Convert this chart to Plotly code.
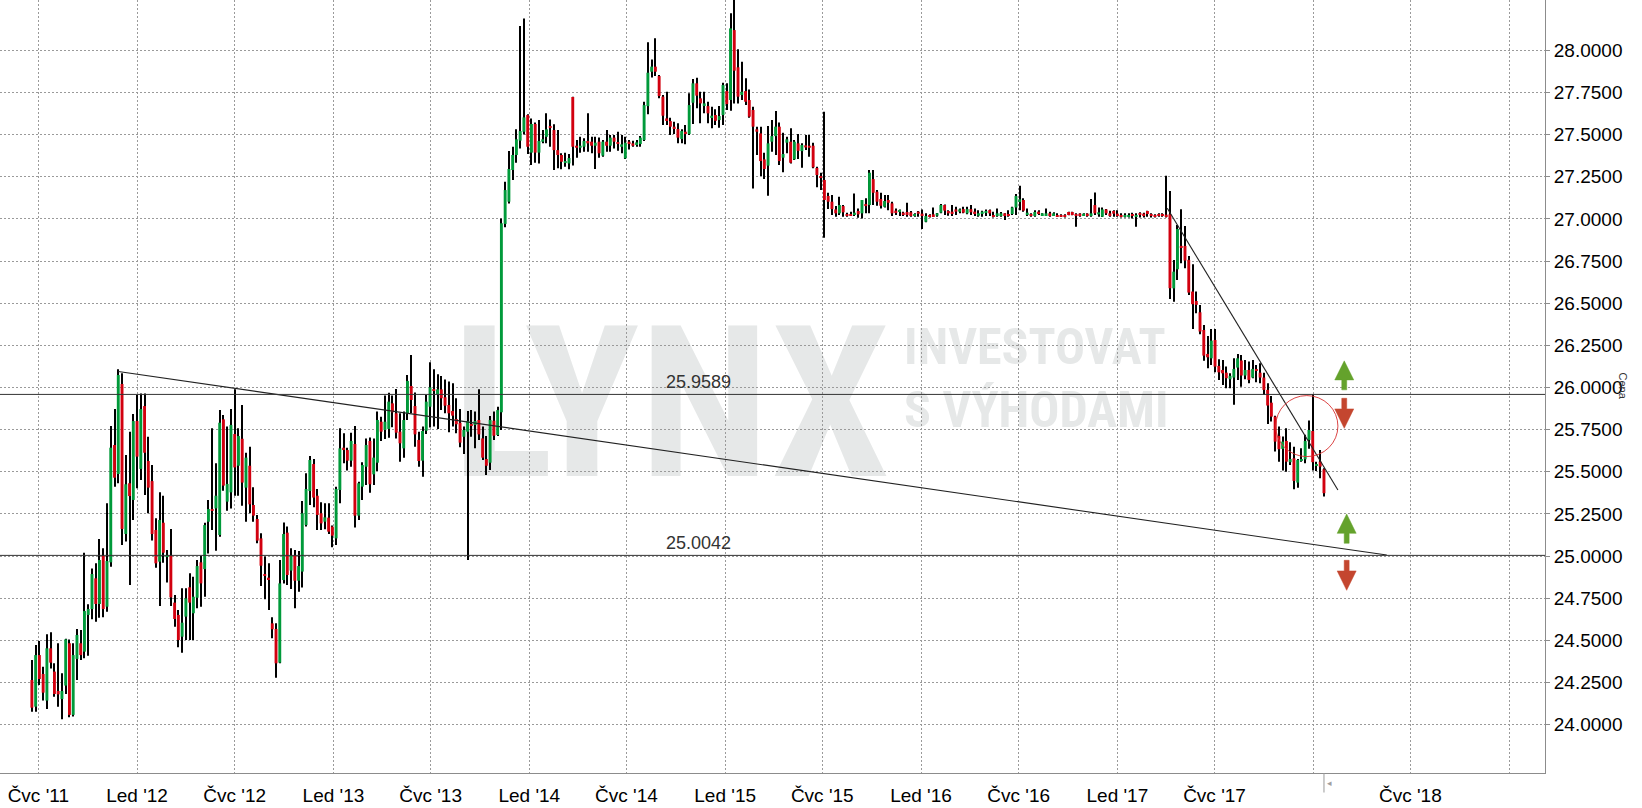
import pandas as pd
import plotly.graph_objects as go

# ---------------- data (weekly EUR/CZK candles) ----------------
first_week = "2011-06-19"

opens = [
    24.265, 24.107, 24.413, 24.301, 24.143, 24.453, 24.315, 24.200, 24.152, 24.232,
    24.483, 24.058, 24.390, 24.483, 24.433, 24.651, 24.686, 24.868, 24.716, 25.001,
    24.700, 24.963, 25.659, 25.487, 26.021, 25.131, 25.432, 25.333, 25.801, 25.517,
    25.890, 25.564, 25.445, 25.155, 24.967, 25.198, 24.997, 25.003, 24.724, 24.651,
    24.522, 24.641, 24.815, 24.661, 24.753, 24.963, 24.923, 25.204, 25.279, 25.283,
    25.125, 25.811, 25.323, 25.378, 25.724, 25.536, 25.696, 25.406, 25.536, 25.303,
    25.220, 25.105, 24.894, 24.872, 24.601, 24.568, 24.368, 24.858, 25.139, 24.914,
    25.003, 24.854, 24.908, 25.184, 25.386, 25.546, 25.358, 25.254, 25.204, 25.228,
    25.175, 25.105, 25.392, 25.643, 25.629, 25.566, 25.665, 25.240, 25.412, 25.530,
    25.683, 25.485, 25.554, 25.797, 25.748, 25.754, 25.906, 25.847, 25.738, 25.639,
    25.843, 26.009, 25.890, 25.689, 25.566, 25.744, 25.886, 25.991, 25.961, 25.989,
    25.942, 25.896, 25.861, 25.813, 25.791, 25.708, 25.738, 25.783, 25.778, 25.807,
    25.698, 25.576, 25.554, 25.803, 25.718, 25.853, 26.970, 27.102, 27.290, 27.379,
    27.464, 27.517, 27.616, 27.393, 27.563, 27.393, 27.458, 27.487, 27.551, 27.527,
    27.408, 27.379, 27.333, 27.329, 27.723, 27.434, 27.422, 27.428, 27.462, 27.458,
    27.434, 27.458, 27.375, 27.458, 27.434, 27.482, 27.456, 27.428, 27.359, 27.458,
    27.448, 27.444, 27.444, 27.468, 27.669, 27.873, 27.903, 27.847, 27.725, 27.596,
    27.580, 27.547, 27.533, 27.474, 27.517, 27.503, 27.689, 27.804, 27.715, 27.675,
    27.669, 27.602, 27.616, 27.586, 27.616, 27.758, 27.705, 28.120, 27.899, 27.735,
    27.758, 27.705, 27.646, 27.531, 27.507, 27.353, 27.316, 27.458, 27.491, 27.547,
    27.363, 27.452, 27.458, 27.353, 27.448, 27.402, 27.436, 27.434, 27.434, 27.302,
    27.254, 27.231, 27.136, 27.102, 27.056, 27.033, 27.076, 27.029, 27.027, 27.023,
    27.047, 27.033, 27.088, 27.082, 27.236, 27.161, 27.118, 27.072, 27.112, 27.092,
    27.049, 27.043, 27.037, 27.041, 27.039, 27.019, 27.043, 27.031, 26.983, 27.023,
    27.027, 27.019, 27.037, 27.082, 27.047, 27.043, 27.056, 27.043, 27.058, 27.033,
    27.058, 27.041, 27.019, 27.033, 27.037, 27.052, 27.023, 27.023, 27.023, 27.029,
    27.029, 27.029, 27.068, 27.106, 27.112, 27.027, 27.027, 27.017, 27.043, 27.023,
    27.023, 27.033, 27.023, 27.023, 27.023, 27.023, 27.041, 27.041, 27.029, 27.029,
    27.021, 27.029, 27.023, 27.082, 27.027, 27.013, 27.056, 27.033, 27.047, 27.027,
    27.023, 27.013, 27.013, 27.029, 27.013, 27.033, 27.029, 27.047, 27.029, 27.023,
    27.029, 27.029, 27.023, 27.027, 26.588, 26.701, 26.840, 26.840, 26.757, 26.569,
    26.513, 26.446, 26.341, 26.199, 26.173, 26.282, 26.128, 26.104, 26.088, 26.049,
    26.059, 26.118, 26.160, 26.071, 26.104, 26.059, 26.108, 26.088, 26.059, 25.986,
    25.910, 25.827, 25.713, 25.636, 25.683, 25.557, 25.580, 25.436, 25.566, 25.574,
    25.689, 25.742, 25.535, 25.560, 25.515,
]

highs = [
    24.384, 24.473, 24.496, 24.344, 24.536, 24.548, 24.364, 24.483, 24.305, 24.510,
    24.506, 24.483, 24.568, 24.562, 25.020, 24.714, 24.927, 24.957, 25.101, 25.046,
    25.313, 25.772, 25.872, 26.108, 26.084, 25.600, 25.738, 25.843, 25.955, 25.965,
    25.965, 25.708, 25.540, 25.224, 25.378, 25.358, 25.036, 25.161, 24.769, 24.680,
    24.809, 24.809, 24.898, 24.878, 24.977, 25.001, 25.198, 25.333, 25.758, 25.550,
    25.866, 25.837, 25.768, 25.872, 25.989, 25.758, 25.896, 25.613, 25.649, 25.408,
    25.244, 25.135, 24.997, 24.957, 24.637, 24.601, 24.977, 25.200, 25.175, 25.046,
    25.036, 25.030, 25.327, 25.491, 25.594, 25.576, 25.398, 25.319, 25.313, 25.313,
    25.181, 25.412, 25.758, 25.728, 25.643, 25.732, 25.772, 25.441, 25.556, 25.698,
    25.704, 25.698, 25.857, 25.827, 25.952, 25.969, 25.952, 25.991, 25.847, 25.857,
    26.074, 26.193, 25.971, 25.738, 25.768, 25.955, 26.149, 26.108, 26.078, 26.068,
    26.048, 26.035, 26.025, 25.936, 25.872, 25.768, 25.861, 25.866, 25.857, 25.989,
    25.768, 25.712, 25.831, 25.857, 25.886, 27.003, 27.221, 27.402, 27.428, 27.531,
    28.144, 28.189, 27.620, 27.596, 27.571, 27.586, 27.527, 27.626, 27.590, 27.561,
    27.527, 27.389, 27.393, 27.385, 27.725, 27.468, 27.487, 27.478, 27.626, 27.487,
    27.487, 27.483, 27.468, 27.527, 27.497, 27.497, 27.517, 27.497, 27.487, 27.468,
    27.464, 27.468, 27.491, 27.695, 28.047, 27.946, 28.071, 27.853, 27.735, 27.754,
    27.600, 27.576, 27.567, 27.531, 27.557, 27.745, 27.830, 27.837, 27.754, 27.754,
    27.695, 27.665, 27.650, 27.669, 27.808, 27.804, 28.219, 28.300, 28.006, 27.932,
    27.834, 27.768, 27.665, 27.547, 27.547, 27.393, 27.551, 27.586, 27.640, 27.571,
    27.511, 27.487, 27.537, 27.468, 27.503, 27.448, 27.497, 27.497, 27.452, 27.310,
    27.274, 27.636, 27.155, 27.141, 27.076, 27.132, 27.082, 27.037, 27.043, 27.151,
    27.062, 27.112, 27.122, 27.290, 27.290, 27.171, 27.155, 27.141, 27.141, 27.102,
    27.062, 27.056, 27.043, 27.096, 27.047, 27.033, 27.047, 27.056, 27.033, 27.027,
    27.068, 27.035, 27.088, 27.086, 27.052, 27.082, 27.072, 27.062, 27.072, 27.072,
    27.082, 27.062, 27.052, 27.049, 27.056, 27.056, 27.043, 27.062, 27.041, 27.033,
    27.052, 27.072, 27.147, 27.197, 27.122, 27.062, 27.033, 27.052, 27.052, 27.033,
    27.062, 27.043, 27.039, 27.033, 27.027, 27.027, 27.043, 27.043, 27.033, 27.033,
    27.033, 27.033, 27.118, 27.157, 27.068, 27.068, 27.058, 27.049, 27.052, 27.052,
    27.033, 27.033, 27.033, 27.037, 27.033, 27.039, 27.037, 27.049, 27.033, 27.027,
    27.033, 27.033, 27.256, 27.166, 26.756, 26.964, 27.057, 26.958, 26.780, 26.731,
    26.569, 26.490, 26.371, 26.306, 26.347, 26.347, 26.167, 26.163, 26.124, 26.084,
    26.173, 26.199, 26.193, 26.163, 26.154, 26.163, 26.134, 26.144, 26.088, 26.025,
    25.950, 25.833, 25.768, 25.709, 25.758, 25.675, 25.649, 25.576, 25.640, 25.719,
    25.804, 25.960, 25.560, 25.630, 25.521,
]

lows = [
    24.077, 24.077, 24.235, 24.143, 24.093, 24.334, 24.166, 24.107, 24.032, 24.182,
    24.044, 24.048, 24.265, 24.384, 24.394, 24.409, 24.625, 24.611, 24.635, 24.637,
    24.670, 24.937, 25.412, 25.432, 25.066, 25.086, 24.829, 25.214, 25.402, 25.451,
    25.362, 25.254, 25.092, 24.931, 24.704, 24.961, 24.844, 24.704, 24.581, 24.459,
    24.427, 24.502, 24.502, 24.502, 24.690, 24.700, 24.759, 25.016, 25.155, 25.032,
    25.115, 25.388, 25.269, 25.283, 25.358, 25.358, 25.299, 25.204, 25.254, 25.204,
    25.076, 24.823, 24.744, 24.680, 24.512, 24.279, 24.364, 24.838, 24.829, 24.805,
    24.690, 24.789, 24.813, 25.175, 25.303, 25.289, 25.155, 25.155, 25.159, 25.131,
    25.052, 25.066, 25.313, 25.550, 25.507, 25.530, 25.169, 25.214, 25.333, 25.422,
    25.376, 25.422, 25.505, 25.683, 25.694, 25.702, 25.764, 25.698, 25.560, 25.584,
    25.807, 25.847, 25.649, 25.530, 25.471, 25.724, 25.762, 25.768, 25.754, 25.866,
    25.847, 25.734, 25.768, 25.728, 25.645, 25.606, 24.977, 25.708, 25.639, 25.689,
    25.570, 25.481, 25.511, 25.689, 25.712, 25.748, 26.950, 27.092, 27.231, 27.333,
    27.418, 27.500, 27.385, 27.320, 27.333, 27.329, 27.448, 27.448, 27.428, 27.290,
    27.300, 27.294, 27.310, 27.294, 27.316, 27.363, 27.393, 27.398, 27.398, 27.389,
    27.296, 27.363, 27.369, 27.398, 27.398, 27.418, 27.404, 27.389, 27.355, 27.412,
    27.428, 27.428, 27.428, 27.462, 27.620, 27.839, 27.847, 27.715, 27.557, 27.557,
    27.497, 27.503, 27.448, 27.448, 27.442, 27.497, 27.563, 27.656, 27.567, 27.626,
    27.567, 27.537, 27.557, 27.541, 27.557, 27.646, 27.642, 27.685, 27.685, 27.705,
    27.675, 27.600, 27.181, 27.379, 27.254, 27.236, 27.138, 27.398, 27.379, 27.320,
    27.276, 27.389, 27.329, 27.349, 27.355, 27.304, 27.408, 27.369, 27.300, 27.187,
    27.171, 26.888, 27.058, 27.023, 27.013, 27.023, 27.013, 27.013, 27.017, 27.017,
    27.007, 27.003, 27.033, 27.033, 27.082, 27.078, 27.062, 27.068, 27.052, 27.017,
    27.023, 27.017, 27.017, 27.013, 27.013, 27.013, 27.013, 26.940, 26.980, 27.009,
    27.013, 27.013, 27.033, 27.023, 27.019, 27.017, 27.023, 27.033, 27.033, 27.027,
    27.023, 27.017, 27.013, 27.013, 27.017, 27.017, 27.009, 27.013, 27.013, 26.993,
    27.013, 27.023, 27.023, 27.052, 27.043, 27.017, 27.013, 27.013, 27.023, 27.017,
    27.017, 27.013, 27.021, 27.011, 27.011, 27.009, 27.021, 27.021, 26.954, 27.013,
    27.019, 27.013, 27.013, 27.023, 27.013, 27.011, 27.023, 27.013, 27.013, 27.013,
    27.009, 27.009, 27.009, 27.003, 26.954, 27.009, 27.009, 27.013, 27.009, 27.009,
    27.013, 27.013, 27.009, 26.525, 26.509, 26.638, 26.737, 26.707, 26.549, 26.347,
    26.440, 26.316, 26.158, 26.114, 26.134, 26.090, 26.045, 26.015, 25.995, 25.995,
    25.897, 26.045, 26.005, 26.049, 26.025, 26.055, 26.031, 26.025, 25.956, 25.784,
    25.798, 25.620, 25.560, 25.507, 25.501, 25.541, 25.396, 25.406, 25.560, 25.551,
    25.636, 25.507, 25.505, 25.462, 25.353,
]

closes = [
    24.101, 24.413, 24.271, 24.190, 24.453, 24.368, 24.182, 24.180, 24.200, 24.506,
    24.058, 24.413, 24.532, 24.413, 24.674, 24.686, 24.894, 24.716, 24.977, 24.686,
    24.971, 25.643, 25.465, 26.074, 25.161, 25.426, 25.356, 25.801, 25.590, 25.872,
    25.613, 25.406, 25.131, 24.957, 25.214, 25.020, 25.003, 24.755, 24.627, 24.502,
    24.605, 24.749, 24.724, 24.759, 24.941, 24.838, 25.184, 25.279, 25.268, 25.358,
    25.791, 25.418, 25.428, 25.778, 25.526, 25.712, 25.436, 25.584, 25.307, 25.240,
    25.092, 24.943, 24.884, 24.862, 24.566, 24.364, 24.838, 25.131, 24.888, 25.003,
    24.854, 24.941, 25.254, 25.398, 25.570, 25.347, 25.244, 25.194, 25.230, 25.145,
    25.121, 25.398, 25.639, 25.629, 25.566, 25.683, 25.240, 25.432, 25.540, 25.659,
    25.426, 25.584, 25.807, 25.738, 25.797, 25.916, 25.853, 25.732, 25.669, 25.807,
    26.039, 25.926, 25.722, 25.564, 25.742, 25.916, 26.001, 25.979, 25.989, 25.936,
    25.892, 25.847, 25.833, 25.782, 25.673, 25.748, 25.801, 25.772, 25.801, 25.722,
    25.584, 25.536, 25.807, 25.714, 25.866, 26.974, 27.171, 27.296, 27.379, 27.472,
    27.521, 27.602, 27.428, 27.563, 27.393, 27.462, 27.472, 27.531, 27.541, 27.408,
    27.379, 27.339, 27.343, 27.361, 27.428, 27.422, 27.434, 27.462, 27.448, 27.434,
    27.452, 27.389, 27.458, 27.434, 27.482, 27.458, 27.444, 27.442, 27.452, 27.444,
    27.434, 27.452, 27.482, 27.675, 27.867, 27.903, 27.873, 27.729, 27.612, 27.586,
    27.547, 27.537, 27.482, 27.521, 27.503, 27.675, 27.804, 27.731, 27.685, 27.685,
    27.626, 27.610, 27.582, 27.610, 27.794, 27.681, 28.130, 27.879, 27.725, 27.754,
    27.695, 27.606, 27.547, 27.517, 27.343, 27.296, 27.448, 27.491, 27.547, 27.343,
    27.385, 27.472, 27.333, 27.458, 27.404, 27.438, 27.424, 27.422, 27.306, 27.260,
    27.244, 27.112, 27.102, 27.058, 27.033, 27.082, 27.039, 27.019, 27.019, 27.037,
    27.027, 27.112, 27.076, 27.274, 27.155, 27.102, 27.078, 27.106, 27.096, 27.033,
    27.039, 27.049, 27.027, 27.023, 27.017, 27.027, 27.031, 27.021, 27.017, 27.013,
    27.017, 27.033, 27.082, 27.049, 27.033, 27.033, 27.043, 27.056, 27.037, 27.058,
    27.039, 27.033, 27.033, 27.041, 27.047, 27.033, 27.013, 27.033, 27.033, 27.023,
    27.019, 27.068, 27.136, 27.112, 27.049, 27.037, 27.019, 27.041, 27.033, 27.029,
    27.031, 27.023, 27.031, 27.013, 27.013, 27.013, 27.023, 27.023, 27.019, 27.021,
    27.029, 27.021, 27.033, 27.033, 27.039, 27.056, 27.033, 27.023, 27.031, 27.021,
    27.013, 27.021, 27.021, 27.019, 27.023, 27.025, 27.021, 27.029, 27.019, 27.013,
    27.019, 27.019, 27.015, 26.589, 26.687, 26.940, 26.830, 26.753, 26.563, 26.494,
    26.490, 26.332, 26.189, 26.179, 26.278, 26.124, 26.090, 26.084, 26.055, 26.069,
    26.110, 26.173, 26.071, 26.104, 26.045, 26.110, 26.098, 26.059, 25.986, 25.893,
    25.827, 25.679, 25.634, 25.679, 25.560, 25.576, 25.446, 25.570, 25.574, 25.683,
    25.748, 25.557, 25.541, 25.531, 25.373,
]

level_values = [25.9589, 25.0042]
level_labels = ["25.9589", "25.0042"]
level_label_date = "2014-11-12"

trend1_dates = ["2011-11-27", "2018-05-18"]
trend1_values = [26.095, 25.006]
trend2_dates = ["2017-04-04", "2018-02-16"]
trend2_values = [27.063, 25.392]

circle_dates = ["2017-10-23", "2018-02-16"]
circle_values = [25.590, 25.952]

arrow_dates = ["2018-02-27 19:00", "2018-02-27 19:00", "2018-03-04 07:00", "2018-03-04 07:00"]
arrow_tails = [25.986, 25.936, 25.076, 24.975]
arrow_bases = [26.045, 25.873, 25.135, 24.912]
arrow_tips = [26.158, 25.758, 25.250, 24.797]
arrow_is_up = [True, False, True, False]

tick_dates = ["2011-07-01", "2012-01-01", "2012-07-01", "2013-01-01", "2013-07-01",
              "2014-01-01", "2014-07-01", "2015-01-01", "2015-07-01", "2016-01-01",
              "2016-07-01", "2017-01-01", "2017-07-01", "2018-01-01", "2018-07-01",
              "2019-01-01"]
tick_labels = ["Čvc '11", "Led '12", "Čvc '12", "Led '13", "Čvc '13", "Led '14",
               "Čvc '14", "Led '15", "Čvc '15", "Led '16", "Čvc '16", "Led '17",
               "Čvc '17", "", "Čvc '18", ""]
price_ticks = [24.0, 24.25, 24.5, 24.75, 25.0, 25.25, 25.5, 25.75, 26.0,
               26.25, 26.5, 26.75, 27.0, 27.25, 27.5, 27.75, 28.0]

# ---------------- styling ----------------
GREEN = "#009a3a"
RED = "#d2000f"
ARROW_GREEN = "#64a22c"
ARROW_RED = "#c4462f"
GRID = "#9a9a9a"
AXIS = "#8c8c8c"
FONT = "Liberation Sans, Arial, Helvetica, sans-serif"
WM_FONT = "Liberation Sans Narrow, Roboto Condensed, DejaVu Sans Condensed, Arial Narrow, Liberation Sans, sans-serif"
WM_COLOR = "#e6e8e8"
DAY_MS = 24 * 3600 * 1000

dates = pd.date_range(first_week, periods=len(opens), freq="7D")
body_base = [min(o, c) for o, c in zip(opens, closes)]
body_len = [max(abs(c - o), 0.010) for o, c in zip(opens, closes)]
body_col = [GREEN if c >= o else RED for o, c in zip(opens, closes)]
wick_len = [h - l for h, l in zip(highs, lows)]

fig = go.Figure()

# wicks (thin black bars from low to high)
fig.add_trace(go.Bar(x=dates, base=lows, y=wick_len, width=1.9 * DAY_MS,
                     marker=dict(color="#000000", line=dict(width=0)),
                     hoverinfo="skip", showlegend=False))
# bodies
fig.add_trace(go.Bar(x=dates, base=body_base, y=body_len, width=5.4 * DAY_MS,
                     marker=dict(color=body_col, line=dict(width=0)),
                     customdata=list(zip(opens, highs, lows, closes)),
                     hovertemplate="%{x|%d.%m.%Y}<br>O %{customdata[0]:.4f}<br>H %{customdata[1]:.4f}"
                                   "<br>L %{customdata[2]:.4f}<br>C %{customdata[3]:.4f}<extra></extra>",
                     showlegend=False))

# trend lines
for tx, ty in ((trend1_dates, trend1_values), (trend2_dates, trend2_values)):
    fig.add_trace(go.Scatter(x=tx, y=ty, mode="lines", line=dict(color="#222222", width=1.1),
                             hoverinfo="skip", showlegend=False))

# arrows as filled polygons
half_head = pd.Timedelta(days=17.7)
half_stem = pd.Timedelta(days=4.6)
for d, tail, base, tip, up in zip(arrow_dates, arrow_tails, arrow_bases, arrow_tips, arrow_is_up):
    c = pd.Timestamp(d)
    xs = [c - half_stem, c - half_stem, c - half_head, c, c + half_head, c + half_stem, c + half_stem, c - half_stem]
    ys = [tail, base, base, tip, base, base, tail, tail]
    col = ARROW_GREEN if up else ARROW_RED
    fig.add_trace(go.Scatter(x=xs, y=ys, mode="lines", fill="toself", fillcolor=col,
                             line=dict(color=col, width=0.5), hoverinfo="skip", showlegend=False))

shapes = []
for v in level_values:
    shapes.append(dict(type="line", xref="paper", x0=0, x1=1, yref="y", y0=v, y1=v,
                       line=dict(color="#333333", width=1)))
shapes.append(dict(type="circle", xref="x", yref="y",
                   x0=circle_dates[0], x1=circle_dates[1], y0=circle_values[0], y1=circle_values[1],
                   line=dict(color="rgba(215,50,50,0.9)", width=1)))

# watermark (behind candles)
wm = [
    ("LYNX", 0.304, 0.5644, 0.3990, 0.5950, 212, "middle center"),
    ("INVESTOVAT", 0.5832, 0.7540, 0.5310, 0.5806, 50, "middle left"),
    ("S VÝHODAMI", 0.5832, 0.7580, 0.4512, 0.4987, 50, "middle left"),
]
for txt, x0, x1, y0, y1, sz, pos in wm:
    shapes.append(dict(type="rect", xref="paper", yref="paper", x0=x0, x1=x1, y0=y0, y1=y1,
                       line=dict(width=0), fillcolor="rgba(0,0,0,0)", layer="below",
                       label=dict(text=txt, textposition=pos, padding=0,
                                  font=dict(family=WM_FONT, size=sz, color=WM_COLOR, weight="bold"))))

annotations = []
for v, t in zip(level_values, level_labels):
    annotations.append(dict(x=level_label_date, y=v, xref="x", yref="y", text=t, showarrow=False,
                            xanchor="center", yanchor="middle", yshift=12,
                            font=dict(family=FONT, size=18, color="#333333")))
annotations.append(dict(x=1.0563, y=0.5, xref="paper", yref="paper", text="Cena", showarrow=False,
                        textangle=90, font=dict(family=FONT, size=11, color="#333333")))
# last-bar marker under the time axis
annotations.append(dict(x=dates[-1], y=0, xref="x", yref="paper", text="", showarrow=True,
                        arrowhead=0, arrowwidth=1, arrowcolor="#9a9a9a", ax=0, ay=21, standoff=0))
annotations.append(dict(x=dates[-1], y=0, xref="x", yref="paper", text="◂", showarrow=False,
                        xanchor="left", yanchor="top", xshift=1, yshift=-3,
                        font=dict(family="DejaVu Sans", size=9, color="#a0a0a0")))

fig.update_layout(
    width=1642, height=808,
    margin=dict(l=0, r=97, t=0, b=35),
    paper_bgcolor="white", plot_bgcolor="white",
    barmode="overlay", showlegend=False,
    shapes=shapes, annotations=annotations,
    font=dict(family=FONT, color="#000000"),
)
fig.update_xaxes(
    type="date", range=["2011-04-20 14:00", "2019-03-08 22:00"],
    tickvals=tick_dates, ticktext=tick_labels,
    showgrid=True, gridcolor=GRID, gridwidth=1, griddash="2px,2px",
    showline=True, linecolor=AXIS, linewidth=1, mirror=False,
    ticks="outside", ticklen=5, tickcolor="rgba(0,0,0,0)",
    tickfont=dict(family=FONT, size=19, color="#000000"),
    zeroline=False, fixedrange=True,
)
fig.update_yaxes(
    side="right", range=[23.7135, 28.2983],
    tickvals=price_ticks, tickformat=".4f",
    showgrid=True, gridcolor=GRID, gridwidth=1, griddash="2px,2px",
    showline=True, linecolor=AXIS, linewidth=1,
    ticks="outside", ticklen=4, tickcolor=AXIS,
    tickfont=dict(family=FONT, size=19, color="#000000"),
    zeroline=False, fixedrange=True,
)

fig.write_html("out.html", config={"displayModeBar": False},
               post_script="document.body.style.margin='0';")
